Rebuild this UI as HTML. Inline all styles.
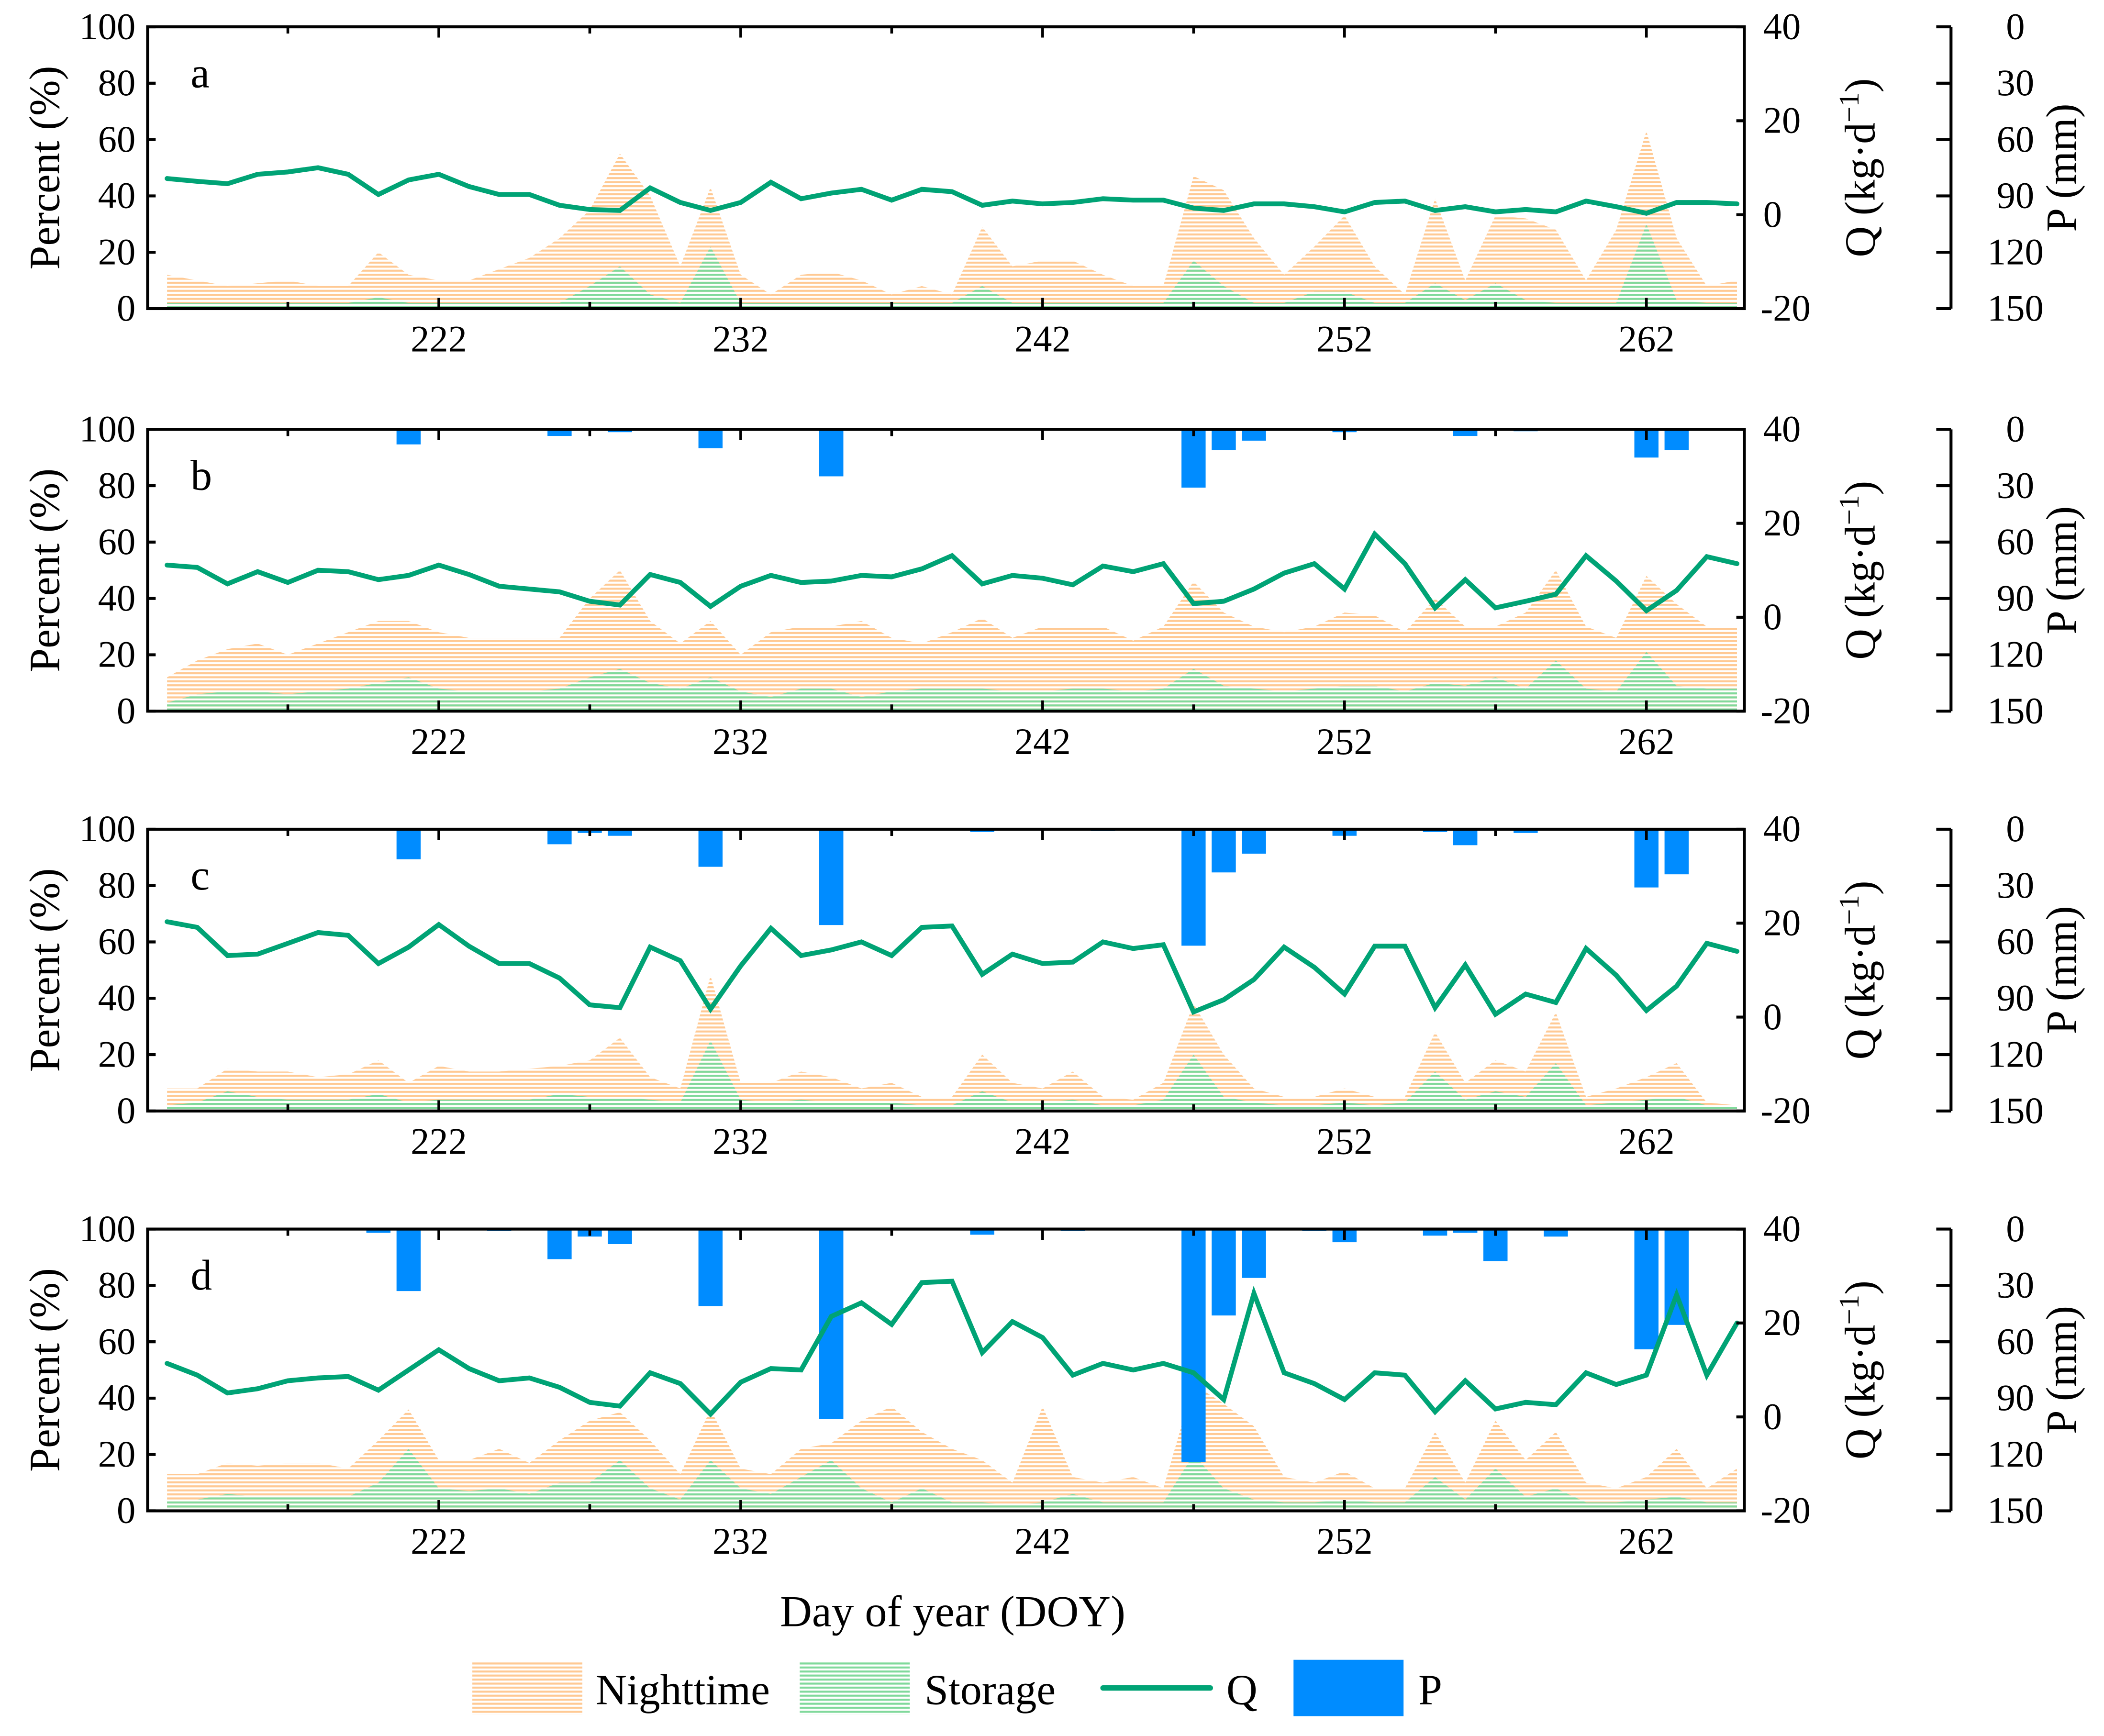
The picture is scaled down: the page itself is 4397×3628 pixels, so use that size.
<!DOCTYPE html>
<html><head><meta charset="utf-8"><style>
html,body{margin:0;padding:0;background:#fff}
svg{display:block}
svg text{font-family:"Liberation Serif","Times New Roman","DejaVu Serif",serif;fill:#000}
</style></head><body>
<svg id="chart" width="4397" height="3628" viewBox="0 0 1568 1293.8" font-family="Liberation Serif, Times New Roman, DejaVu Serif, serif" xmlns="http://www.w3.org/2000/svg">
<defs>
<pattern id="hOr" width="6" height="3" patternUnits="userSpaceOnUse"><rect x="0" y="0" width="6" height="1.5" fill="#ffc993"/></pattern>
<pattern id="hGr" width="6" height="3" patternUnits="userSpaceOnUse"><rect x="0" y="0" width="6" height="1.5" fill="#80d99b"/></pattern>
</defs>
<g id="panels"></g>
<text x="710" y="1212" font-size="33" text-anchor="middle">Day of year (DOY)</text>
<g>
<rect x="352" y="1238" width="82" height="40" fill="url(#hOr)"/>
<text x="444" y="1270" font-size="32">Nighttime</text>
<rect x="596" y="1238" width="82" height="40" fill="url(#hGr)"/>
<text x="689" y="1270" font-size="32">Storage</text>
<line x1="822" y1="1258" x2="902" y2="1258" stroke="#00a375" stroke-width="4" stroke-linecap="round"/>
<text x="914" y="1270" font-size="32">Q</text>
<rect x="964" y="1237" width="82" height="42" fill="#008cff"/>
<text x="1057" y="1270" font-size="32">P</text>
</g>
</svg>
<script>
const days = [213,214,215,216,217,218,219,220,221,222,223,224,225,226,227,228,229,230,231,232,233,234,235,236,237,238,239,240,241,242,243,244,245,246,247,248,249,250,251,252,253,254,255,256,257,258,259,260,261,262,263,264,265];
const xTicks = [222,232,242,252,262];
const pctTicks = [0,20,40,60,80,100];
const qTicks = [-20,0,20,40];
const pTicks = [0,30,60,90,120,150];
const panelLabels = ['a','b','c','d'];

const qA = [7.7,7.1,6.6,8.6,9.1,10.0,8.6,4.3,7.4,8.6,6.0,4.3,4.3,2.0,1.1,0.9,5.7,2.6,0.9,2.6,6.9,3.4,4.6,5.4,3.1,5.4,4.9,2.0,2.9,2.3,2.6,3.4,3.1,3.1,1.4,0.9,2.3,2.3,1.7,0.6,2.6,2.9,0.9,1.7,0.6,1.1,0.6,2.9,1.7,0.3,2.6,2.6,2.3];
const qB = [11.1,10.6,7.1,9.7,7.4,10.0,9.7,8.0,8.9,11.1,9.1,6.6,6.0,5.4,3.4,2.6,9.1,7.4,2.3,6.6,8.9,7.4,7.7,8.9,8.6,10.3,13.1,7.1,8.9,8.3,6.9,10.9,9.7,11.4,2.9,3.4,6.0,9.4,11.4,6.0,17.7,11.4,2.0,8.0,2.0,3.4,4.9,13.1,7.7,1.4,5.7,12.9,11.4];
const qC = [20.3,19.1,13.1,13.4,15.7,18.0,17.4,11.4,14.9,19.7,15.1,11.4,11.4,8.3,2.6,2.0,14.9,12.0,1.7,10.9,18.9,13.1,14.3,16.0,13.1,19.1,19.4,9.1,13.4,11.4,11.7,16.0,14.6,15.4,1.1,3.7,8.0,14.9,10.6,4.9,15.1,15.1,2.0,11.1,0.6,4.9,3.1,14.6,8.9,1.4,6.6,15.7,14.0];
const qD = [11.4,8.9,5.1,6.0,7.7,8.3,8.6,5.7,10.0,14.3,10.3,7.7,8.3,6.3,3.1,2.3,9.4,7.1,0.6,7.4,10.3,10.0,21.4,24.3,19.7,28.6,28.9,13.7,20.3,16.9,8.9,11.4,10.0,11.4,9.4,3.7,26.3,9.4,7.1,3.7,9.4,8.9,1.1,7.7,1.7,3.1,2.6,9.4,6.9,8.9,26.0,8.9,20.0];

const nightA = [12,10,8,9,10,8,8,20,12,10,10,14,18,25,35,55,40,15,43,12,5,12,13,10,5,8,5,29,15,17,17,12,8,8,47,42,25,12,22,33,15,5,39,10,33,32,28,10,28,63,25,8,10];
const nightB = [12,18,22,24,20,24,28,32,32,28,26,26,26,26,40,50,32,24,32,20,28,30,30,32,26,24,28,33,26,30,30,30,25,30,46,35,30,28,30,35,34,28,40,30,30,35,50,30,26,48,38,30,30];
const nightC = [8,8,15,14,14,12,13,18,10,16,14,14,15,16,18,26,12,8,48,10,10,14,12,8,10,5,5,20,10,8,14,5,4,10,38,20,8,5,5,8,5,5,28,10,18,14,35,5,8,12,17,3,2];
const nightD = [13,13,17,16,17,17,15,25,36,18,18,22,17,25,32,35,25,13,36,15,13,22,24,32,37,28,22,18,10,37,12,10,12,8,45,38,30,12,10,14,8,8,28,10,32,18,28,10,8,12,22,8,15];

const storA = [2,2,2,2,2,2,2,4,2,2,2,2,2,2,8,15,5,2,22,2,2,2,2,2,2,2,2,8,2,2,2,2,2,2,17,8,2,2,6,6,2,2,9,3,9,3,2,2,2,30,3,2,2];
const storB = [3,6,7,7,6,7,8,10,12,8,7,7,7,8,12,15,10,8,12,7,5,8,8,5,7,8,8,8,7,7,8,8,7,8,15,9,8,7,8,9,9,7,10,9,12,8,18,8,7,21,9,8,8];
const storC = [2,3,7,5,4,4,4,6,3,4,4,4,4,6,5,5,4,3,25,4,3,4,3,3,3,2,2,7,3,3,4,2,2,4,20,5,3,2,2,3,2,3,14,4,7,5,17,2,3,4,5,2,2];
const storD = [4,4,6,5,5,5,5,10,22,8,7,8,6,10,10,18,8,4,18,8,6,12,18,8,3,8,3,3,2,3,6,3,3,3,20,8,4,3,3,4,3,3,12,4,15,5,8,3,3,4,5,3,3];

const pDaysB = [221,226,228,231,235,247,248,249,252,256,258,262,263];
const pValsB = [8,3.5,1.5,10,25,31,11,6,1.5,3.5,1,15,11];
const pDaysC = [221,226,227,228,231,235,240,244,247,248,249,252,255,256,258,262,263];
const pValsC = [16,8,2,3.5,20,51,1.5,1,62,23,13,3.5,1.5,8.5,2,31,24];
const pDaysD = [220,221,224,226,227,228,231,235,240,243,247,248,249,251,252,255,256,257,259,262,263];
const pValsD = [2,33,1,16,4,8,41,101,3,1,124,46,26,1,7,3.5,2,17,4,64,51];

const panelQ = [qA,qB,qC,qD];
const panelNight = [nightA,nightB,nightC,nightD];
const panelStor = [storA,storB,storC,storD];
const panelPDays = [[],pDaysB,pDaysC,pDaysD];
const panelPVals = [[],pValsB,pValsC,pValsD];

const NS='http://www.w3.org/2000/svg';
const X0=110, X1=1300, PH=210;
const panelTops=[20,320,618,916];
function xScale(d){return 327+(d-222)*22.5;}
function mk(tag,attrs,parent){const e=document.createElementNS(NS,tag);for(const k in attrs)e.setAttribute(k,attrs[k]);parent.appendChild(e);return e;}
const root=document.getElementById('panels');

panelTops.forEach((top,pi)=>{
  const bot=top+PH;
  const yP=v=>bot-v/100*PH;
  const yQ=v=>bot-(v+20)/60*PH;
  const yR=v=>top+v/150*PH;
  const g=mk('g',{},root);
  
  
  let d='M'+xScale(days[0])+','+bot;
  days.forEach((dd,i)=>{d+=' L'+xScale(dd)+','+yP(panelNight[pi][i]);});
  d+=' L'+xScale(days[days.length-1])+','+bot+' Z';
  const an=mk('path',{d:d,fill:'url(#hOr)'},g);
  
  
  d='M'+xScale(days[0])+','+bot;
  days.forEach((dd,i)=>{d+=' L'+xScale(dd)+','+yP(panelStor[pi][i]);});
  d+=' L'+xScale(days[days.length-1])+','+bot+' Z';
  const as=mk('path',{d:d,fill:'url(#hGr)'},g);
  
  
  panelPDays[pi].forEach((pd,i)=>{
    const r=mk('rect',{x:xScale(pd)-9,y:top,width:18,height:yR(panelPVals[pi][i])-top,fill:'#008cff'},g);
    
    
  });
  const pts=days.map((dd,i)=>xScale(dd)+','+yQ(panelQ[pi][i])).join(' ');
  const ql=mk('polyline',{points:pts,fill:'none',stroke:'#00a375','stroke-width':3.6,'stroke-linejoin':'miter','stroke-linecap':'round'},g);
  
  
  const fr=mk('rect',{x:X0,y:top,width:X1-X0,height:PH,fill:'none',stroke:'#000','stroke-width':2.2},g);
  
  
  pctTicks.forEach(v=>{
    const y=yP(v);
    mk('line',{x1:X0,y1:y,x2:X0+6,y2:y,stroke:'#000','stroke-width':2.2},g);
    const t=mk('text',{x:X0-9,y:y+9,'font-size':28,'text-anchor':'end'},g);
    t.textContent=v;
    
    
  });
  qTicks.forEach(v=>{
    const y=yQ(v);
    mk('line',{x1:X1-6,y1:y,x2:X1,y2:y,stroke:'#000','stroke-width':2.2},g);
    const t=mk('text',{x:X1+(v<0?12:14),y:y+9,'font-size':28},g);
    t.textContent=v;
    
    
  });
  const pa=mk('line',{x1:1454,y1:top,x2:1454,y2:bot,stroke:'#000','stroke-width':2.2},g);
  
  
  pTicks.forEach(v=>{
    const y=yR(v);
    mk('line',{x1:1443,y1:y,x2:1454,y2:y,stroke:'#000','stroke-width':2.2},g);
    const t=mk('text',{x:1502,y:y+9,'font-size':28,'text-anchor':'middle'},g);
    t.textContent=v;
    
    
  });
  for(let dd=217; dd<=265; dd+=5){
    const x=xScale(dd), major=xTicks.includes(dd), L=major?8:5;
    mk('line',{x1:x,y1:bot,x2:x,y2:bot-L,stroke:'#000','stroke-width':2},g);
    mk('line',{x1:x,y1:top,x2:x,y2:top+L,stroke:'#000','stroke-width':2},g);
  }
  xTicks.forEach(v=>{
    const t=mk('text',{x:xScale(v),y:bot+32,'font-size':28,'text-anchor':'middle'},g);
    t.textContent=v;
    
    
  });
  const cy=top+PH/2;
  const t1=mk('text',{x:0,y:0,'font-size':32,'text-anchor':'middle',transform:'translate(44,'+cy+') rotate(-90)'},g);
  t1.textContent='Percent (%)';
  
  
  const t2=mk('text',{x:0,y:0,'font-size':32,'text-anchor':'middle',transform:'translate(1397,'+cy+') rotate(-90)'},g);
  t2.innerHTML='Q (kg·d<tspan dy="-12" font-size="21">−1</tspan><tspan dy="12">)</tspan>';
  
  
  const t3=mk('text',{x:0,y:0,'font-size':32,'text-anchor':'middle',transform:'translate(1547,'+cy+') rotate(-90)'},g);
  t3.textContent='P (mm)';
  
  
  const pl=mk('text',{x:142,y:top+45,'font-size':32},g);
  pl.textContent=panelLabels[pi];
  
  
});
</script>
</body></html>
